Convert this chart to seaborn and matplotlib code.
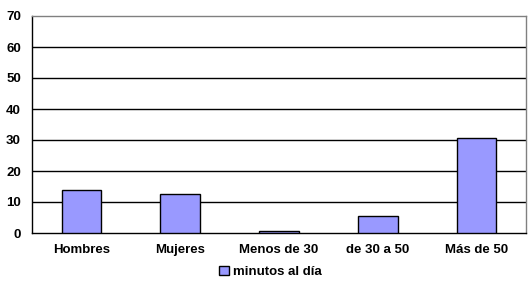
import matplotlib
matplotlib.use("Agg")
import matplotlib.pyplot as plt
import seaborn as sns
import numpy as np
from matplotlib.patches import Patch

categories = ["Hombres", "Mujeres", "Menos de 30", "de 30 a 50", "Más de 50"]
values = [13.8, 12.5, 0.6, 5.4, 30.5]
series_name = "minutos al día"
yticks = [0, 10, 20, 30, 40, 50, 60, 70]

sns.set_style("white")
plt.rcParams['font.family'] = ['Liberation Sans', 'DejaVu Sans']
plt.rcParams['text.color'] = 'black'
plt.rcParams['xtick.color'] = 'black'
plt.rcParams['ytick.color'] = 'black'
plt.rcParams['axes.labelcolor'] = 'black'

fig = plt.figure(figsize=(5.30, 2.88), dpi=100)
W, H = 530, 288
ax = fig.add_axes([32 / W, (H - 233) / H, (526 - 32) / W, (233 - 16) / H])

sns.barplot(x=categories, y=values, color="#9999FF", edgecolor="black",
            linewidth=1.0, width=0.4, saturation=1, ax=ax, zorder=3)

ax.set_ylim(0, 70)
ax.set_xlim(-0.5, len(categories) - 0.5)
ax.set_yticks(yticks)
ax.set_yticklabels([str(t) for t in yticks], fontsize=9.5, fontweight='bold', color='black')
for t in yticks[1:-1]:
    ax.axhline(t, color='black', lw=1.0, zorder=1)

ax.set_xticks(range(len(categories)))
ax.set_xticklabels(categories, fontsize=9.5, fontweight='bold', color='black')
ax.tick_params(axis='x', which='major', length=0, pad=8)
ax.set_xticks(np.arange(-0.5, len(categories), 1.0), minor=True)
ax.tick_params(axis='x', which='minor', length=4, width=1, color='black', direction='out')
ax.tick_params(axis='y', length=3, width=1, color='black', direction='out', pad=5)

for s in ['left', 'bottom']:
    ax.spines[s].set_color('black')
    ax.spines[s].set_linewidth(1.0)
for s in ['top', 'right']:
    ax.spines[s].set_color('#808080')
    ax.spines[s].set_linewidth(1.0)
ax.set_xlabel("")
ax.set_ylabel("")

handle = Patch(facecolor="#9999FF", edgecolor="black", linewidth=1.0)
fig.legend([handle], [series_name], loc='center', bbox_to_anchor=(270 / W, (H - 272) / H),
           frameon=False, handlelength=0.75, handleheight=0.75, handletextpad=0.3,
           prop={'size': 9.5, 'weight': 'bold'}, labelcolor='black')

fig.savefig("out.png", dpi=100)
